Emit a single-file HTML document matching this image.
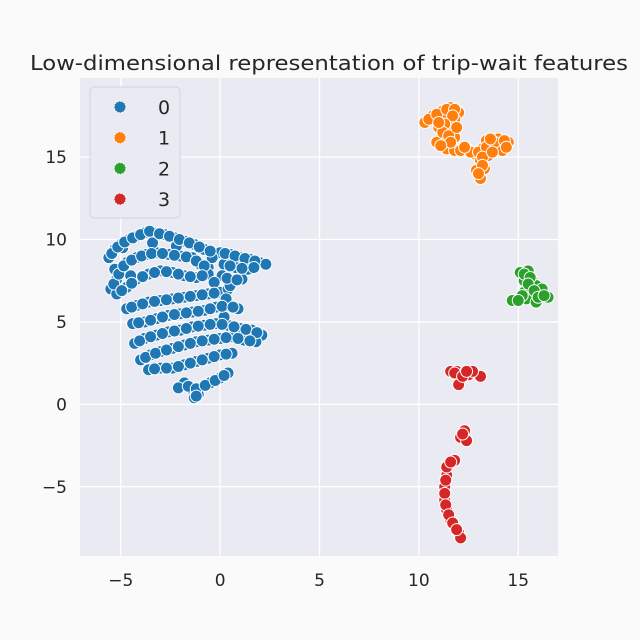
<!DOCTYPE html>
<html><head><meta charset="utf-8"><style>
body{margin:0;background:#fafafa;}
svg{display:block;font-family:"DejaVu Sans","Liberation Sans",sans-serif;}
</style></head><body>
<svg id="chart" width="640" height="640">
<rect x="0" y="0" width="640" height="640" fill="#fafafa"/>
<rect x="80" y="78" width="478" height="478" fill="#eaeaf2"/>
<g id="grid"></g>
<g id="ticks"></g>
<g id="points"></g>
<text x="329" y="70" text-anchor="middle" font-size="20" textLength="598" lengthAdjust="spacingAndGlyphs" fill="#262626">Low-dimensional representation of trip-wait features</text>
<g id="legend">
<rect x="90" y="87" width="90" height="131" rx="4" fill="#eaeaf2" stroke="#d0d0d8" stroke-width="1" opacity="0.9"/>
</g>
</svg>
<script>
const xTicks=[-5,0,5,10,15];
const yTicks=[-5,0,5,10,15];
const classes=["0","1","2","3"];
const colors=["#1f77b4","#ff7f0e","#2ca02c","#d62728"];
const blueX=[-5.6,-5.3,-5,-4.6,-4.2,-3.8,-3.3,-2.8,-2.3,-1.8,-1.3,-0.8,-5.5,-5.2,-5,-4.7,-4.2,-3.7,-3.2,-2.6,-2,-1.4,-1,-0.6,-5.2,-4.7,-4.2,-3.6,-3,-2.4,-1.8,-1.2,-0.6,0,0.5,1,1.5,2,2.3,0.2,0.8,1.4,0.1,0.6,1.1,-4.7,-4.2,-3.6,-3,-2.4,-1.8,-1.2,-0.6,0,0.4,-4.4,-3.8,-3.2,-2.6,-2,-1.4,-0.8,-0.2,0.4,0.9,-4.3,-3.8,-3.2,-2.6,-2,-1.4,-0.8,-0.2,0.4,1.0,1.6,2.1,-4,-3.5,-3,-2.4,-1.8,-1.2,-0.6,0,0.6,1.2,1.8,-3.6,-3,-2.4,-1.8,-1.2,-0.6,0,0.6,-1.8,-1.4,-1.0,-0.5,0,0.4,-1.3,-1.1,-2.1,0.2,0.3,0.5,-0.3,-4.9,-3.4,-2.2,-0.4,-5.3,-4.5,
-5.45,-5.15,-4.8,-4.4,-4.0,-3.55,-3.05,-2.55,-2.05,-1.55,-1.05,-0.5,-5.35,-5.1,-4.85,-4.45,-3.95,-3.45,-2.9,-2.3,-1.7,-1.2,-0.8,-4.95,-4.45,-3.9,-3.3,-2.7,-2.1,-1.5,-0.9,0.25,0.75,1.25,1.75,0.5,1.1,0.35,0.85,1.7,-4.45,-3.9,-3.3,-2.7,-2.1,-1.5,-0.9,-0.3,-4.1,-3.5,-2.9,-2.3,-1.7,-1.1,-0.5,0.1,0.65,-4.05,-3.5,-2.9,-2.3,-1.7,-1.1,-0.5,0.1,0.7,1.3,1.85,-3.75,-3.25,-2.7,-2.1,-1.5,-0.9,-0.3,0.3,0.9,1.5,-3.3,-2.7,-2.1,-1.5,-0.9,-0.3,0.3,-1.6,-1.2,-0.75,-0.25,0.2,-1.2];
const blueY=[8.9,9.4,9.7,10,10.2,10.4,10.4,10.3,10.1,9.9,9.7,9.4,7,7.6,8.2,8.6,8.9,9.1,9.2,9.1,9.0,8.9,8.5,8.3,6.7,7.1,7.6,7.9,8.1,8.0,7.8,7.7,7.9,9.2,9.1,8.9,8.8,8.6,8.5,8.5,8.3,8.2,7.8,7.5,7.6,5.8,6.0,6.2,6.3,6.4,6.5,6.6,6.7,6.8,7.0,4.9,5.0,5.2,5.4,5.5,5.6,5.7,5.9,6.0,5.8,3.7,4.0,4.2,4.4,4.5,4.7,4.8,4.9,4.8,4.6,4.5,4.2,2.7,3.0,3.2,3.4,3.6,3.8,3.9,4.0,4.1,3.9,3.8,2.1,2.2,2.2,2.4,2.6,2.8,3.0,3.1,1.3,0.9,1.0,1.3,1.6,1.9,0.4,0.6,1.0,5.3,6.4,7.2,7.4,9.5,9.8,9.6,8.9,8.2,7.8,
9.15,9.55,9.85,10.1,10.3,10.5,10.35,10.2,10.0,9.8,9.55,9.3,7.3,7.9,8.4,8.75,9.0,9.15,9.15,9.05,8.95,8.7,8.4,6.9,7.35,7.75,8.0,8.05,7.9,7.75,7.8,9.15,9.0,8.85,8.7,8.4,8.25,7.65,7.55,8.3,5.9,6.1,6.25,6.35,6.45,6.55,6.65,6.75,4.95,5.1,5.3,5.45,5.55,5.65,5.8,5.95,5.9,3.85,4.1,4.3,4.45,4.6,4.75,4.85,4.85,4.7,4.55,4.35,2.85,3.1,3.3,3.5,3.7,3.85,3.95,4.05,4.0,3.85,2.15,2.2,2.3,2.5,2.7,2.9,3.05,1.1,0.95,1.15,1.45,1.75,0.5];
const orangeX=[10.3,10.7,11.2,11.6,12.0,11.5,11,11.6,11.8,11.2,10.9,11.4,11.8,11.2,11.8,12.4,12.8,13.2,13.6,14.0,14.5,13.1,13.3,13.1,12.9,13.5,13.9,13.4,12.1,14.2,10.5,10.9,11.4,11.8,11.7,11.3,11.2,11.5,11.6,11.1,12.6,13.0,13.4,13.8,14.3,13.2,13.2,13.0,13.7,13.6,12.3,14.4,11.9,11.0];
const orangeY=[17.1,17.5,17.8,18.0,17.7,17.2,16.8,16.7,16.2,16.0,15.9,15.5,15.4,17.3,17.3,15.5,15.2,15.5,15.8,16.1,15.9,14.8,14.3,13.7,14.2,15.1,15.5,16.0,15.4,15.4,17.3,17.6,17.9,17.9,17.5,17.0,16.5,16.3,15.9,15.7,15.3,15.3,15.6,15.9,16.0,15.0,14.5,14.0,15.3,16.1,15.6,15.6,16.8,17.1];
const greenX=[15.1,15.5,15.3,15.7,15.5,15.9,15.3,15.7,16.1,16.5,14.7,15.4,15.9,16.2,15.3,15.6,15.5,15.8,16.0,15.2,15.0,16.3];
const greenY=[8.0,8.1,7.5,7.5,7.0,7.2,6.8,6.6,6.7,6.5,6.3,6.4,6.2,7.0,7.9,7.7,7.3,6.9,6.5,6.6,6.3,6.6];
const redX=[11.6,11.9,12.3,12.5,12.1,13.1,12.0,12.7,12.3,12.1,12.4,11.8,11.5,11.4,11.3,11.3,11.4,11.6,11.8,12.0,12.1,11.4,11.8,12.2,12.4,12.2,11.6,11.35,11.3,11.35,11.5,11.7,11.9];
const redY=[2.0,2.0,1.9,1.8,1.5,1.7,1.2,2.0,-1.6,-2.0,-2.2,-3.4,-3.6,-4.3,-5.0,-5.8,-6.4,-7.0,-7.4,-7.8,-8.1,-3.8,1.9,1.7,2.0,-1.8,-3.5,-4.6,-5.4,-6.1,-6.7,-7.2,-7.6];
const seriesX=[blueX,orangeX,greenX,redX];
const seriesY=[blueY,orangeY,greenY,redY];
const X0=80,X1=558,Y0=78,Y1=556;
const xMin=-7.05,xMax=17.0,yMin=-9.2,yMax=19.8;
function sx(v){return X0+(v-xMin)/(xMax-xMin)*(X1-X0);}
function sy(v){return Y1-(v-yMin)/(yMax-yMin)*(Y1-Y0);}
const NS="http://www.w3.org/2000/svg";
function mk(tag,attrs,parent){const e=document.createElementNS(NS,tag);for(const k in attrs)e.setAttribute(k,attrs[k]);parent.appendChild(e);return e;}
const grid=document.getElementById('grid'),ticks=document.getElementById('ticks'),pts=document.getElementById('points'),leg=document.getElementById('legend');
xTicks.forEach(t=>{
  const l=mk('line',{x1:sx(t),x2:sx(t),y1:Y0,y2:Y1,stroke:'#fff','stroke-width':1.3},grid);
  
  
  const tx=mk('text',{x:sx(t),y:586,'text-anchor':'middle','font-size':17,fill:'#262626'},ticks);
  tx.textContent=t<0?'\u2212'+(-t):String(t);
  
  
});
yTicks.forEach(t=>{
  const l=mk('line',{x1:X0,x2:X1,y1:sy(t),y2:sy(t),stroke:'#fff','stroke-width':1.3},grid);
  
  
  const tx=mk('text',{x:67,y:sy(t)+6,'text-anchor':'end','font-size':17,fill:'#262626'},ticks);
  tx.textContent=t<0?'\u2212'+(-t):String(t);
  
  
});
seriesX.forEach((xs,i)=>{
  xs.forEach((xv,j)=>{
    const c=mk('circle',{cx:sx(xv),cy:sy(seriesY[i][j]),r:6,fill:colors[i],stroke:'#fff','stroke-width':1},pts);
    
    
  });
});
classes.forEach((c,i)=>{
  const y=107+i*30.7;
  const m=mk('circle',{cx:120,cy:y,r:5.8,fill:colors[i],stroke:'#fff','stroke-width':0.8,'stroke-dasharray':'2 1'},leg);
  
  
  const t=mk('text',{x:158,y:y+7,'font-size':19,fill:'#262626'},leg);
  t.textContent=c;
  
  
});
</script>
</body></html>
